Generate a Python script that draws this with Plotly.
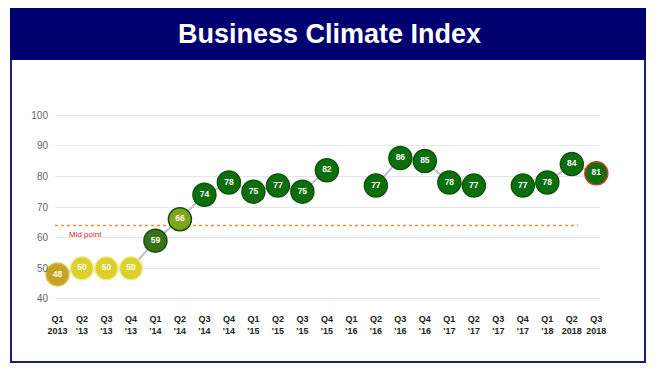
import plotly.graph_objects as go

quarters = ["Q1<br>2013", "Q2<br>'13", "Q3<br>'13", "Q4<br>'13",
            "Q1<br>'14", "Q2<br>'14", "Q3<br>'14", "Q4<br>'14",
            "Q1<br>'15", "Q2<br>'15", "Q3<br>'15", "Q4<br>'15",
            "Q1<br>'16", "Q2<br>'16", "Q3<br>'16", "Q4<br>'16",
            "Q1<br>'17", "Q2<br>'17", "Q3<br>'17", "Q4<br>'17",
            "Q1<br>'18", "Q2<br>2018", "Q3<br>2018"]
index_values = [48, 50, 50, 50, 59, 66, 74, 78, 75, 77, 75, 82,
                None, 77, 86, 85, 78, 77, None, 77, 78, 84, 81]
y_ticks = [40, 50, 60, 70, 80, 90, 100]
mid_point = 64

def colour_for(v):
    if v is None:
        return "rgba(0,0,0,0)"
    if v < 49:
        return "#c4a41c"
    if v < 55:
        return "#dcd02c"
    if v < 62:
        return "#3c7016"
    if v < 70:
        return "#7fa51e"
    return "#0d6e0d"

def outline_for(i, v):
    if i == len(index_values) - 1:
        return "#d83a1a"
    if v is not None and 49 <= v < 55:
        return "#f2ea96"
    if v is not None and v < 49:
        return "#d8c060"
    return "#0a560a"

xs = list(range(len(quarters)))
fig = go.Figure()
fig.add_trace(go.Scatter(
    x=xs, y=index_values, mode="lines+markers+text",
    connectgaps=False, cliponaxis=False,
    line=dict(color="#c4bccb", width=2),
    marker=dict(size=23,
                color=[colour_for(v) for v in index_values],
                line=dict(color=[outline_for(i, v) for i, v in enumerate(index_values)], width=1.5)),
    text=[("" if v is None else str(v)) for v in index_values],
    textposition="middle center",
    textfont=dict(color="white", size=8.5, family="Liberation Sans, Arial", weight="bold"),
    hoverinfo="skip",
    showlegend=False,
))

# the page body has an 8px margin, so the figure starts at page pixel (8, 8)
OFF = 8
W, H = 652, 362
# plot area in page pixels: x 55..600, y 112..302
L, R, T, B = 55 - OFF, (OFF + W) - 600, 112 - OFF, (OFF + H) - 302
pw, ph = W - L - R, H - T - B

def px(x):
    return (x - OFF - L) / pw

def py(y):
    return (OFF + H - B - y) / ph

shapes = [
    dict(type="rect", xref="paper", yref="paper", x0=px(11), x1=px(645), y0=py(362), y1=py(9),
         line=dict(color="#1c1c78", width=2), fillcolor="rgba(0,0,0,0)", layer="below"),
    dict(type="rect", xref="paper", yref="paper", x0=px(10), x1=px(646), y0=py(60), y1=py(8),
         line=dict(width=0), fillcolor="#000070", layer="below"),
    dict(type="line", xref="paper", yref="y", x0=0, x1=px(578), y0=mid_point, y1=mid_point,
         line=dict(color="#e8913a", width=1.5, dash="dot"), layer="below"),
]

annotations = [
    dict(text="<b>Business Climate Index</b>", xref="paper", yref="paper",
         x=px(329), y=py(34), xanchor="center", yanchor="middle", showarrow=False,
         font=dict(color="white", size=27, family="Liberation Sans, Arial")),
    dict(text="Mid point", xref="paper", yref="y", x=px(67), y=61, xanchor="left",
         yanchor="middle", showarrow=False,
         font=dict(color="#e02424", size=8, family="Liberation Sans, Arial")),
]

fig.update_layout(
    width=W, height=H,
    margin=dict(l=L, r=R, t=T, b=B),
    paper_bgcolor="white", plot_bgcolor="white",
    shapes=shapes, annotations=annotations,
    xaxis=dict(range=[-0.1, 22.15], tickmode="array", tickvals=xs, ticktext=quarters,
               tickangle=0,
               showgrid=False, zeroline=False, showline=False, ticks="",
               tickfont=dict(size=9, color="#222222", family="Liberation Sans, Arial", weight="bold"),
               ticklabelstandoff=10),
    yaxis=dict(range=[39, 101], tickmode="array", tickvals=y_ticks,
               showgrid=True, gridcolor="#e6e6e6", gridwidth=1, zeroline=False,
               showline=False, ticks="",
               tickfont=dict(size=10, color="#666666", family="Liberation Sans, Arial"),
               ticklabelstandoff=6),
)

fig.write_html("out.html")
